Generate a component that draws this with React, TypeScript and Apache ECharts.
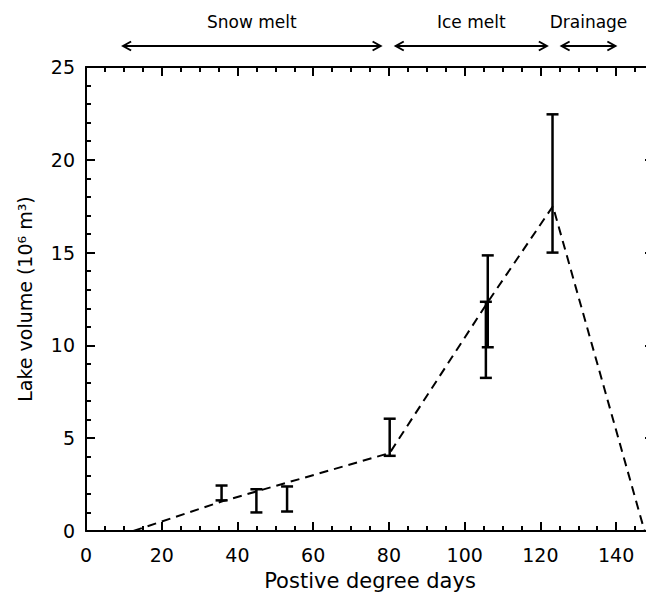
import React, { useEffect, useRef } from "react";
import * as echarts from "echarts";

// Dashed trend line (positive degree days, lake volume 10^6 m^3)
const lineX = [12.5, 36, 80.2, 106, 123.3, 147.5];
const lineY = [0, 1.6, 4.2, 12.3, 17.5, 0];

// Error bars
const errX = [35.8, 45.0, 53.1, 80.2, 106.1, 105.6, 123.2];
const errLow = [1.65, 1.0, 1.05, 4.05, 9.9, 8.25, 15.0];
const errHigh = [2.45, 2.25, 2.4, 6.05, 14.85, 12.35, 22.45];

// Phase annotations (in positive degree days)
const phaseNames = ["Snow melt", "Ice melt", "Drainage"];
const phaseStart = [9.8, 81.8, 125.6];
const phaseEnd = [77.8, 121.7, 139.8];

const FONT = "DejaVu Sans";

export default function App() {
  const ref = useRef<HTMLDivElement>(null);

  useEffect(() => {
    document.body.style.margin = "0";
    if (!ref.current) return;
    const chart = echarts.init(ref.current, null, { renderer: "svg" });

    const axisLine = { show: true, onZero: false, lineStyle: { color: "#000", width: 2 } };
    const tick = { show: true, inside: true, length: 9, lineStyle: { color: "#000", width: 2 } };
    const minorX = { show: true, splitNumber: 4, length: 5, lineStyle: { color: "#000", width: 2 } };
    const minorY = { show: true, splitNumber: 5, length: 5, lineStyle: { color: "#000", width: 2 } };

    chart.setOption({
      animation: false,
      backgroundColor: "#fff",
      grid: { left: 86, top: 67, width: 568, height: 465 },
      xAxis: [
        {
          type: "value",
          position: "bottom",
          min: 0,
          max: 150,
          interval: 20,
          axisLine,
          axisTick: tick,
          minorTick: minorX,
          splitLine: { show: false },
          axisLabel: {
            color: "#000",
            fontSize: 19,
            fontFamily: FONT,
            margin: 14,
            showMaxLabel: false,
          },
          name: "Postive degree days",
          nameLocation: "middle",
          nameGap: 39,
          nameTextStyle: { color: "#000", fontSize: 21, fontFamily: FONT },
        },
        {
          type: "value",
          position: "top",
          min: 0,
          max: 150,
          interval: 20,
          axisLine,
          axisTick: tick,
          minorTick: minorX,
          splitLine: { show: false },
          axisLabel: { show: false },
        },
      ],
      yAxis: [
        {
          type: "value",
          position: "left",
          min: 0,
          max: 25,
          interval: 5,
          axisLine,
          axisTick: tick,
          minorTick: minorY,
          splitLine: { show: false },
          axisLabel: { color: "#000", fontSize: 19, fontFamily: FONT, margin: 11 },
          name: "Lake volume (10⁶ m³)",
          nameLocation: "middle",
          nameRotate: 90,
          nameGap: 52,
          nameTextStyle: { color: "#000", fontSize: 19, fontFamily: FONT },
        },
        {
          type: "value",
          position: "right",
          min: 0,
          max: 25,
          interval: 5,
          axisLine,
          axisTick: tick,
          minorTick: minorY,
          splitLine: { show: false },
          axisLabel: { show: false },
        },
      ],
      series: [
        {
          type: "line",
          xAxisIndex: 0,
          yAxisIndex: 0,
          data: lineX.map((x, i) => [x, lineY[i]]),
          symbol: "none",
          lineStyle: { color: "#000", width: 2, type: [9, 6] },
          silent: true,
        },
        {
          type: "custom",
          xAxisIndex: 0,
          yAxisIndex: 0,
          data: errX.map((x, i) => [x, errLow[i], errHigh[i]]),
          encode: { x: 0, y: [1, 2] },
          renderItem: (params: any, api: any) => {
            const lo = api.coord([api.value(0), api.value(1)]);
            const hi = api.coord([api.value(0), api.value(2)]);
            const w = 6;
            const style = { stroke: "#000", lineWidth: 2.5 };
            return {
              type: "group",
              children: [
                { type: "line", shape: { x1: lo[0], y1: lo[1], x2: hi[0], y2: hi[1] }, style },
                { type: "line", shape: { x1: lo[0] - w, y1: lo[1], x2: lo[0] + w, y2: lo[1] }, style },
                { type: "line", shape: { x1: hi[0] - w, y1: hi[1], x2: hi[0] + w, y2: hi[1] }, style },
              ],
            };
          },
          silent: true,
        },
      ],
    });

    const arrowY = 46;
    const textY = 22;
    const head = 8;
    const graphics: any[] = [];
    phaseNames.forEach((name, i) => {
      const x0 = chart.convertToPixel({ xAxisIndex: 0 }, phaseStart[i]) as number;
      const x1 = chart.convertToPixel({ xAxisIndex: 0 }, phaseEnd[i]) as number;
      const style = { stroke: "#000", lineWidth: 2, fill: null };
      graphics.push({ type: "line", shape: { x1: x0, y1: arrowY, x2: x1, y2: arrowY }, style });
      graphics.push({
        type: "polyline",
        shape: { points: [[x0 + head, arrowY - 4.5], [x0, arrowY], [x0 + head, arrowY + 4.5]] },
        style,
      });
      graphics.push({
        type: "polyline",
        shape: { points: [[x1 - head, arrowY - 4.5], [x1, arrowY], [x1 - head, arrowY + 4.5]] },
        style,
      });
      graphics.push({
        type: "text",
        x: (x0 + x1) / 2,
        y: textY,
        style: {
          text: name,
          fill: "#000",
          fontSize: 17,
          fontFamily: FONT,
          align: "center",
          verticalAlign: "middle",
        },
      });
    });
    chart.setOption({ graphic: graphics });

    return () => chart.dispose();
  }, []);

  return (
    <div style={{ width: 646, height: 596, overflow: "hidden" }}>
      <div ref={ref} style={{ width: 680, height: 596 }} />
    </div>
  );
}
